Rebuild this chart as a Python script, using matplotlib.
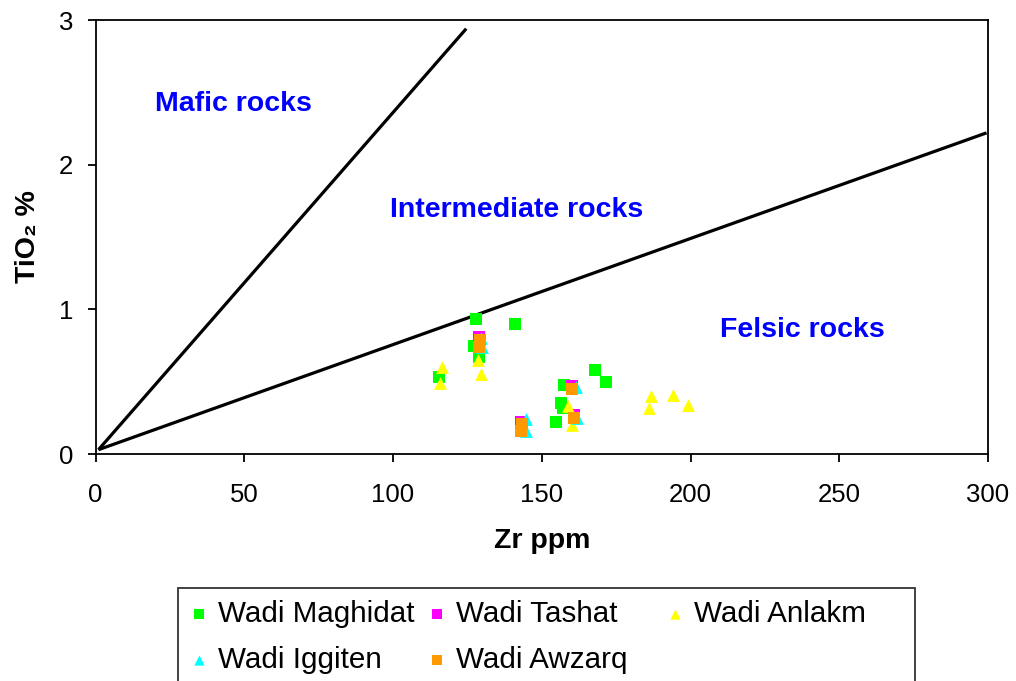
import matplotlib.pyplot as plt

plt.rcParams['font.family'] = ['Liberation Sans', 'DejaVu Sans']

# boundary lines between rock fields (Zr ppm, TiO2 %)
mafic_line_x = [1, 124.6]
mafic_line_y = [0.03, 2.94]
felsic_line_x = [1, 299.5]
felsic_line_y = [0.03, 2.22]

# samples by wadi
maghidat_zr = [128.0, 140.9, 127.3, 129.0, 128.8, 115.3, 167.8, 171.6, 157.5, 156.4, 157.2, 154.7]
maghidat_ti = [0.93, 0.90, 0.75, 0.71, 0.67, 0.53, 0.58, 0.50, 0.48, 0.35, 0.32, 0.22]
tashat_zr = [129.0, 143.0, 160.3, 160.9]
tashat_ti = [0.81, 0.22, 0.47, 0.27]
anlakm_zr = [116.4, 115.8, 128.4, 129.6, 158.9, 160.3, 186.7, 186.1, 194.2, 199.0]
anlakm_ti = [0.60, 0.49, 0.65, 0.55, 0.33, 0.20, 0.40, 0.32, 0.41, 0.34]
iggiten_zr = [129.5, 129.8, 144.6, 144.8, 161.5, 162.0]
iggiten_ti = [0.80, 0.74, 0.24, 0.16, 0.46, 0.25]
awzarq_zr = [129.2, 129.0, 143.3, 143.0, 160.3, 160.9]
awzarq_ti = [0.79, 0.74, 0.21, 0.16, 0.45, 0.25]

fig = plt.figure(figsize=(10.16, 6.81), dpi=100)
ax = fig.add_axes([0.094, 0.3333, 0.8785, 0.6373])

ax.plot(mafic_line_x, mafic_line_y, color='black', lw=2.3, solid_capstyle='butt')
ax.plot(felsic_line_x, felsic_line_y, color='black', lw=2.3, solid_capstyle='butt')

sq = 72
tri = 85
h1 = ax.scatter(maghidat_zr, maghidat_ti, s=sq, marker='s', color='#00ff00', lw=0, label='Wadi Maghidat', zorder=3)
h2 = ax.scatter(tashat_zr, tashat_ti, s=sq, marker='s', color='#ff00ff', lw=0, label='Wadi Tashat', zorder=3)
h3 = ax.scatter(anlakm_zr, anlakm_ti, s=tri, marker='^', color='#ffff00', lw=0, label='Wadi Anlakm', zorder=3)
h4 = ax.scatter(iggiten_zr, iggiten_ti, s=tri, marker='^', color='#00ffff', lw=0, label='Wadi Iggiten', zorder=3)
h5 = ax.scatter(awzarq_zr, awzarq_ti, s=sq, marker='s', color='#ff9900', lw=0, label='Wadi Awzarq', zorder=3)

blue = '#0000ff'
ax.text(20.0, 2.42, 'Mafic rocks', color=blue, fontsize=20.5, fontweight='bold', ha='left', va='center')
ax.text(99.0, 1.69, 'Intermediate rocks', color=blue, fontsize=20.5, fontweight='bold', ha='left', va='center')
ax.text(210.0, 0.857, 'Felsic rocks', color=blue, fontsize=20.5, fontweight='bold', ha='left', va='center')

ax.set_xlim(0, 300)
ax.set_ylim(0, 3)
ax.set_xticks(range(0, 301, 50))
ax.set_yticks([0, 1, 2, 3])
ax.tick_params(axis='x', direction='out', length=6, width=1.3, pad=15, labelsize=18.5)
ax.tick_params(axis='y', direction='out', length=6, width=1.3, pad=10, labelsize=18.5)
for sp in ax.spines.values():
    sp.set_linewidth(1.3)

ax.set_xlabel('Zr ppm', fontsize=20.5, fontweight='bold', labelpad=15)
ax.set_ylabel('TiO\u2082 %', fontsize=20.5, fontweight='bold', labelpad=13)

# row-wise order for a 3-column legend
leg = fig.legend([h1, h4, h2, h5, h3],
                 ['Wadi Maghidat', 'Wadi Iggiten', 'Wadi Tashat', 'Wadi Awzarq', 'Wadi Anlakm'],
                 ncol=3, loc='upper left', bbox_to_anchor=(178 / 1016, 1 - 588 / 681),
                 borderaxespad=0, fontsize=21.3, markerscale=0.8, handlelength=0.6,
                 handletextpad=0.35, columnspacing=0.45, labelspacing=0.6,
                 fancybox=False, frameon=True, edgecolor='black', scatterpoints=1)
leg.get_frame().set_linewidth(1.3)
# equal-width columns
leg._legend_handle_box.mode = 'equal'

fig.savefig('out.png', dpi=100)
